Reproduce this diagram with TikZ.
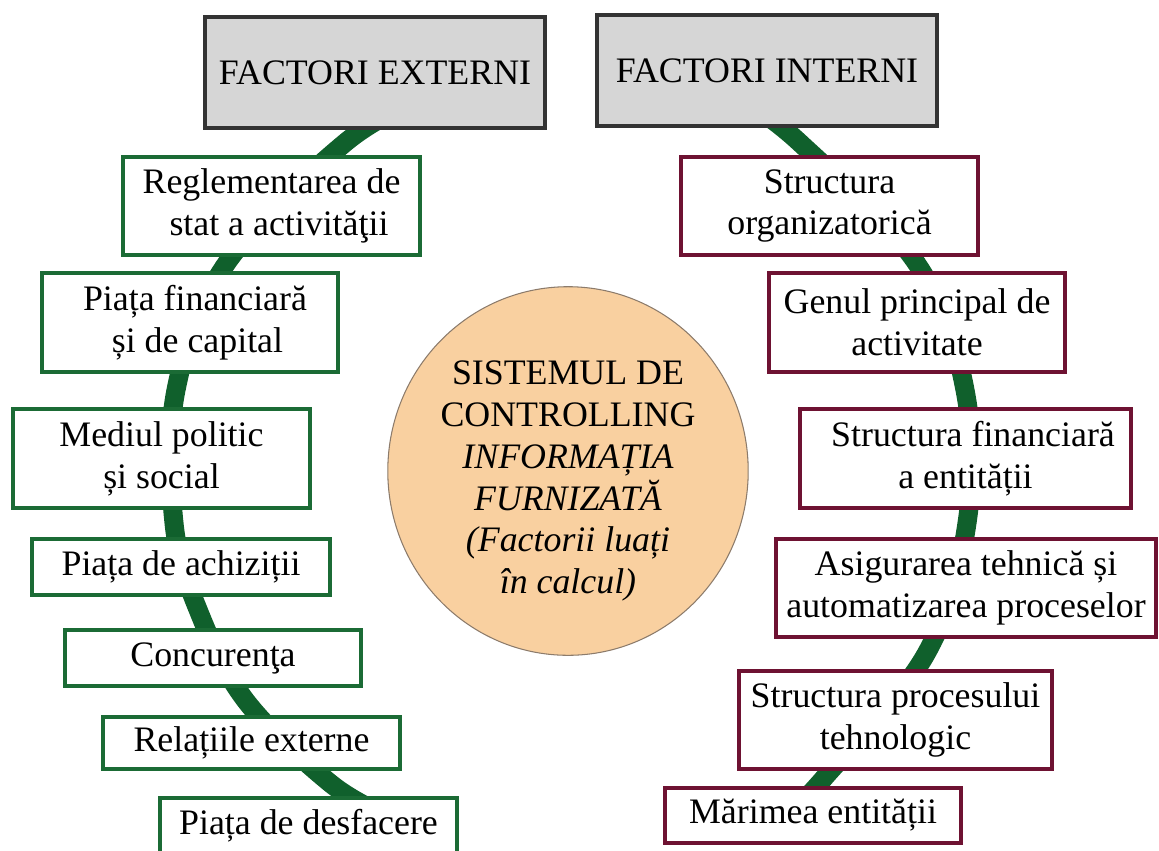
\documentclass[tikz,border=0pt]{standalone}
\usepackage{fontspec}
\setmainfont{Liberation Serif}
\usetikzlibrary{shapes.geometric,backgrounds}
\definecolor{gband}{HTML}{10602C}
\definecolor{gbord}{HTML}{1B6B35}
\definecolor{mbord}{HTML}{6E1232}
\definecolor{hdfill}{HTML}{D6D6D6}
\definecolor{hdbord}{HTML}{333333}
\definecolor{peach}{HTML}{F9D0A0}
\definecolor{peachbord}{HTML}{8C7B6B}
\tikzset{
  hd/.style={draw=hdbord, fill=hdfill, line width=2.4pt, minimum width=6.8cm, minimum height=2.22cm},
  gbox/.style={draw=gbord, fill=white, line width=2pt},
  mbox/.style={draw=mbord, fill=white, line width=2pt},
  band/.style={draw=gband, line width=0.38cm},
  disc/.style={ellipse, fill=peach, draw=peachbord, line width=0.6pt}}
\begin{document}
\begin{tikzpicture}[x=0.02cm,y=-0.02cm,
  every node/.style={font=\fontsize{20.4}{23.8}\selectfont, align=center, inner sep=0pt}]
\useasboundingbox (0,0) rectangle (1159,850);
% headers
\node[hd] (ext) at (375,72.5) {FACTORI EXTERNI};
\node[hd] (int) at (767,70.5) {FACTORI INTERNI};
% external factors
\node[gbox, minimum width=5.94cm, minimum height=1.96cm] (l1) at (271.5,206) {Reglementarea de\\\hspace*{0.3cm}stat a activităţii};
\node[gbox, minimum width=5.92cm, minimum height=1.98cm] (l2) at (190,322.5) {\hspace*{0.2cm}Piața financiară\\\hspace*{0.3cm}și de capital};
\node[gbox, minimum width=5.94cm, minimum height=1.98cm] (l3) at (161.5,458.5) {Mediul politic\\și social};
\node[gbox, minimum width=5.96cm, minimum height=1.12cm] (l4) at (181,567) {Piața de achiziții};
\node[gbox, minimum width=5.92cm, minimum height=1.12cm] (l5) at (213,658) {Concurenţa};
\node[gbox, minimum width=5.94cm, minimum height=1.04cm] (l6) at (251.5,743) {Relațiile externe};
\node[gbox, minimum width=5.94cm, minimum height=1.12cm] (l7) at (308.5,826) {Piața de desfacere};
% internal factors
\node[mbox, minimum width=5.94cm, minimum height=1.96cm] (r1) at (829.5,206) {Structura\\organizatorică};
\node[mbox, minimum width=5.92cm, minimum height=1.98cm] (r2) at (917,322.5) {Genul principal de\\activitate};
\node[mbox, minimum width=6.62cm, minimum height=1.98cm] (r3) at (965.5,458.5) {\hspace*{0.3cm}Structura financiară\\a entității};
\node[mbox, minimum width=7.6cm, minimum height=1.96cm] (r4) at (966,588) {Asigurarea tehnică și\\automatizarea proceselor};
\node[mbox, minimum width=6.26cm, minimum height=1.96cm] (r5) at (895.5,720) {Structura procesului\\tehnologic};
\node[mbox, minimum width=5.92cm, minimum height=1.1cm] (r6) at (813,815.5) {Mărimea entității};
% centre
\node[disc, minimum width=7.06cm, minimum height=6.44cm] (c) at (568,471) {\rule{0pt}{25pt}SISTEMUL DE\\CONTROLLING\\\textit{INFORMAȚIA}\\\textit{FURNIZATĂ}\\\textit{(Factorii luați}\\\textit{în calcul)}};
% bands
\begin{scope}[on background layer]
\draw[band] plot[smooth, tension=0.6] coordinates {(430,95) (346,142) (226,264) (176,390) (174,523) (199,612) (246,701) (330,783) (385,815)};
\draw[band] plot[smooth, tension=0.6] coordinates {(735,95) (799,142) (917,264) (965,390) (967,523) (926,654) (824,778) (788,815)};
\end{scope}
\end{tikzpicture}
\end{document}
